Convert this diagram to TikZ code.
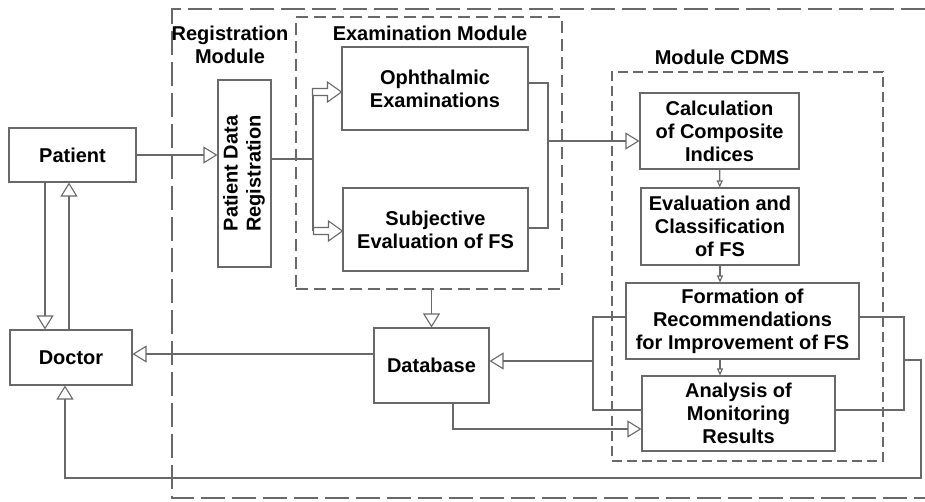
\documentclass[tikz,border=0pt]{standalone}
\usepackage{fontspec}
\setmainfont{Liberation Sans}
\usepackage{xcolor}
\usepackage{graphicx}
\usepackage{tikz}
\usetikzlibrary{arrows.meta}

\definecolor{linegray}{RGB}{105,105,105}
\newcommand{\lbl}{\fontsize{20}{23}\selectfont\bfseries}
% hollow block arrow ending at #1
\newcommand{\fatarrow}[1]{%
  \draw[flow, fill=white] (#1) -- ++(-14,-10) -- ++(0,6.5) -- ++(-15,0)
    -- ++(0,7) -- ++(15,0) -- ++(0,6.5) -- cycle;}

\begin{document}
\begin{tikzpicture}[x=1pt, y=-1pt,
    box/.style={draw=linegray, line width=1.1pt, fill=white, inner sep=0pt, align=center, font=\lbl},
    flow/.style={draw=linegray, line width=1.1pt},
    arr/.style={flow, -{Triangle[open, length=14pt, width=17pt]}},
    tinyarr/.style={flow, -{Triangle[open, length=7pt, width=6pt]}},
    module/.style={draw=linegray, line width=1.1pt, dash pattern=on 12pt off 6pt, inner sep=0pt},
    title/.style={font=\lbl, align=center, inner sep=0pt}]
    \useasboundingbox (0,0) rectangle (925,501);

    % Outer frame (open to the right)
    \draw[draw=linegray, line width=1.1pt, dash pattern=on 24pt off 7pt]
        (925,9) -- (172,9) -- (172,498) -- (925,498);

    % Module frames
    \node[module, minimum width=266pt, minimum height=272pt] (exam) at (429,153) {};
    \node[module, dash pattern=on 10pt off 5pt, minimum width=271pt, minimum height=389pt] (cdms) at (747.5,266.5) {};

    \node[title] (regtitle) at (230,45) {Registration\\Module};
    \node[title] (examtitle) at (430,33) {Examination Module};
    \node[title] (cdmstitle) at (722,57) {Module CDMS};

    % Actors
    \node[box, minimum width=127pt, minimum height=54pt] (patient) at (72.5,155) {Patient};
    \node[box, minimum width=122pt, minimum height=55pt] (doctor) at (71,357.5) {Doctor};

    % Registration and examination
    \node[box, minimum width=53pt, minimum height=187pt] (pdr) at (244.5,173.5)
        {\rotatebox{90}{\begin{tabular}{@{}c@{}}Patient Data\\Registration\end{tabular}}};
    \node[box, minimum width=186pt, minimum height=83pt] (ophth) at (435,88.5) {Ophthalmic\\Examinations};
    \node[box, minimum width=185pt, minimum height=83pt] (subj) at (435.5,229.5) {Subjective\\Evaluation of FS};
    \node[box, minimum width=115pt, minimum height=75pt] (db) at (431.5,365.5) {Database};

    % CDMS steps
    \node[box, minimum width=159pt, minimum height=76pt] (calc) at (719.5,131) {Calculation\\of Composite\\Indices};
    \node[box, minimum width=158pt, minimum height=77pt] (eval) at (720,226.5) {Evaluation and\\Classification\\of FS};
    \node[box, minimum width=233pt, minimum height=76pt] (form) at (742.5,321) {Formation of\\Recommendations\\for Improvement of FS};
    \node[box, minimum width=193pt, minimum height=75pt] (anal) at (738.5,413.5) {Analysis of\\Monitoring\\Results};

    % Junction points
    \coordinate (split) at (313,159);
    \coordinate (merge) at (548,141);
    \coordinate (back) at (593,361);
    \coordinate (fwd) at (904,360);
    \coordinate (loop) at (921,478);
    \coordinate (tipA) at ([yshift=-3.5pt]ophth.west);
    \coordinate (tipB) at ([yshift=-1.5pt]subj.west);
    \coordinate (pd1) at ([xshift=-27.5pt]patient.south);
    \coordinate (pd2) at ([xshift=-3.5pt]patient.south);
    \coordinate (dbout) at ([yshift=11.5pt]db.west);

    % Patient and doctor
    \draw[arr] (patient.east) -- (patient.east -| pdr.west);
    \draw[arr] (pd1) -- (pd1 |- doctor.north);
    \draw[arr] (pd2 |- doctor.north) -- (pd2);

    % Registration to examinations
    \draw[flow] (pdr.east |- split) -- (split);
    \draw[flow] (split |- tipA) -- (split |- tipB);
    \fatarrow{tipA}
    \fatarrow{tipB}

    % Examinations to CDMS
    \draw[flow] ([yshift=5.5pt]ophth.east) -| (merge);
    \draw[flow] ([yshift=1.5pt]subj.east) -| (merge);
    \draw[arr] (merge) -- (merge -| calc.west);

    \draw[tinyarr] (calc) -- (eval);
    \draw[tinyarr] (eval.south) -- (eval.south |- form.north);
    \draw[tinyarr] (eval.south |- form.south) -- (eval.south |- anal.north);

    % Database links
    \draw[arr] (db.north |- exam.south) -- (db.north);
    \draw[arr] (dbout) -- (dbout -| doctor.east);
    \draw[flow] ([yshift=4pt]form.west) -| (back) |- ([yshift=3.5pt]anal.west);
    \draw[arr] (back) -- (back -| db.east);
    \draw[arr] ([xshift=21.5pt]db.south) |- ([yshift=-15.5pt]anal.west);

    % Feedback to doctor
    \draw[flow] ([yshift=4pt]form.east) -| (fwd) |- ([yshift=3.5pt]anal.east);
    \draw[arr] (fwd) -| (loop) -| ([xshift=-6pt]doctor.south);
\end{tikzpicture}
\end{document}
